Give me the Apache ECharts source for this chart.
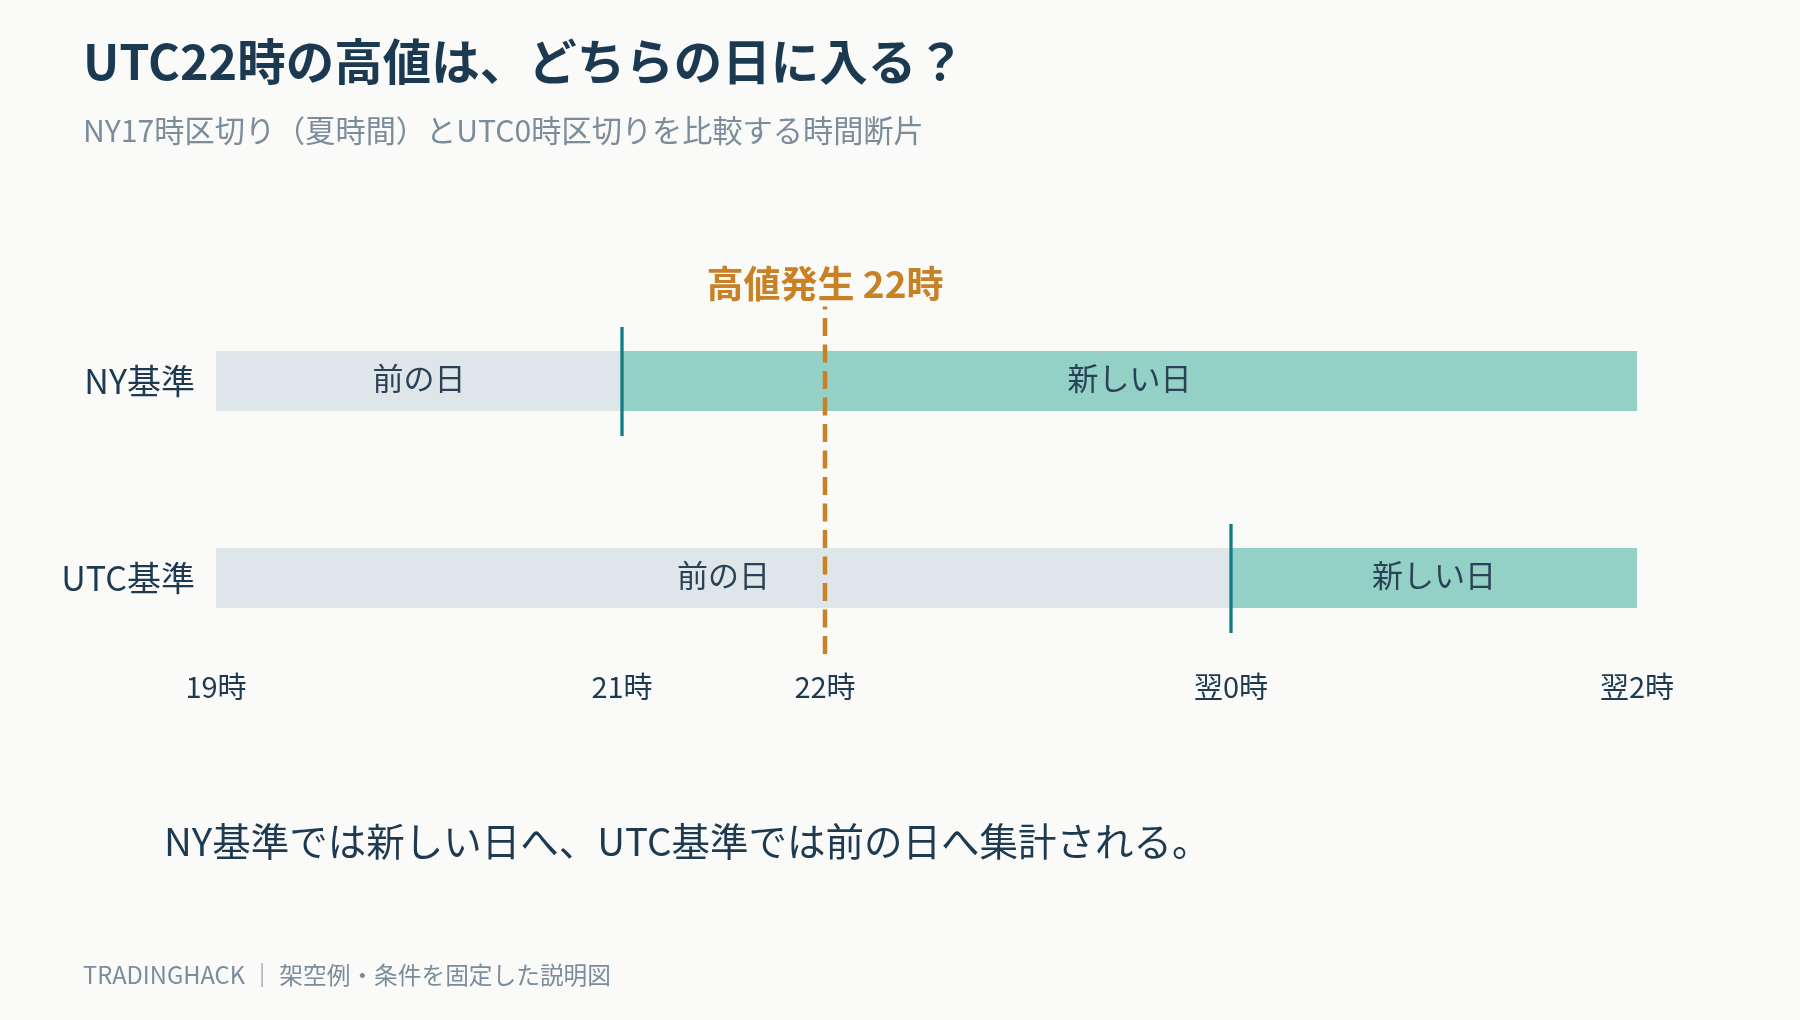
<!DOCTYPE html>
<html>
<head>
<meta charset="utf-8">
<style>
html,body{margin:0;padding:0;background:#fafaf8;}
#chart{width:1800px;height:1020px;}
</style>
<script src="https://cdn.jsdelivr.net/npm/echarts@6/dist/echarts.min.js"></script>
</head>
<body>
<div id="chart"></div>
<script>
// ---- data ----
const rows = ['NY基準', 'UTC基準'];
const rangeStart = [19, 19];
const dayBoundary = [21, 24];
const rangeEnd = [26, 26];
const prevLabel = '前の日';
const newLabel = '新しい日';
const highHour = 22;
const highLabel = '高値発生 22時';
const tickValues = [19, 21, 22, 24, 26];
const tickLabels = ['19時', '21時', '22時', '翌0時', '翌2時'];
const titleText = 'UTC22時の高値は、どちらの日に入る？';
const subtitleText = 'NY17時区切り（夏時間）とUTC0時区切りを比較する時間断片';
const noteText = 'NY基準では新しい日へ、UTC基準では前の日へ集計される。';
const footerText = 'TRADINGHACK ｜ 架空例・条件を固定した説明図';

// ---- build segments from arrays ----
const segments = [];
rows.forEach((r, i) => {
  segments.push({ value: [rangeStart[i], dayBoundary[i], i, 0], name: prevLabel });
  segments.push({ value: [dayBoundary[i], rangeEnd[i], i, 1], name: newLabel });
});
const boundaries = rows.map((r, i) => [dayBoundary[i], i]);

const FONT = '"Noto Sans CJK JP", "Noto Sans", sans-serif';
const NAVY = '#1e3a50';
const GRAY = '#dfe6e9';
const TEAL = '#93d0c6';
const TEAL_LINE = '#107d80';
const ORANGE = '#c98126';
const BAR_H = 60;

const chart = echarts.init(document.getElementById('chart'));
chart.setOption({
  backgroundColor: '#fafaf8',
  animation: false,
  grid: { left: 216, right: 163, top: 282.5, height: 394 },
  xAxis: {
    type: 'value', min: 19, max: 26,
    axisLine: { show: false }, axisTick: { show: false }, splitLine: { show: false },
    axisLabel: {
      customValues: tickValues,
      margin: -4,
      fontFamily: FONT, fontSize: 29, color: NAVY,
      formatter: v => tickLabels[tickValues.indexOf(v)]
    }
  },
  yAxis: {
    type: 'category', data: rows, inverse: true,
    axisLine: { show: false }, axisTick: { show: false }, splitLine: { show: false },
    axisLabel: { margin: 21, fontFamily: FONT, fontSize: 34, color: NAVY, padding: [0, 0, 5, 0] }
  },
  series: [
    {
      type: 'custom', z: 2,
      encode: { x: [0, 1], y: 2 },
      data: segments,
      renderItem: (params, api) => {
        const s = api.value(0), e = api.value(1), r = api.value(2), k = api.value(3);
        const p0 = api.coord([s, r]);
        const p1 = api.coord([e, r]);
        return {
          type: 'group',
          children: [
            { type: 'rect', shape: { x: p0[0], y: p0[1] - BAR_H / 2, width: p1[0] - p0[0], height: BAR_H },
              style: { fill: k ? TEAL : GRAY } },
            { type: 'text', style: { text: segments[params.dataIndex].name, x: (p0[0] + p1[0]) / 2, y: p0[1] - 2.5,
              align: 'center', verticalAlign: 'middle', font: '31px ' + FONT, fill: '#2b4156' } }
          ]
        };
      }
    },
    {
      type: 'custom', z: 3,
      encode: { x: 0, y: 1 },
      data: boundaries,
      renderItem: (params, api) => {
        const p = api.coord([api.value(0), api.value(1)]);
        return { type: 'line', shape: { x1: p[0], y1: p[1] - 54, x2: p[0], y2: p[1] + 55 },
          style: { stroke: TEAL_LINE, lineWidth: 3.3 } };
      }
    },
    {
      type: 'custom', z: 4,
      encode: { x: 0 },
      data: [[highHour]],
      renderItem: (params, api) => {
        const top = api.coord([api.value(0), 0]);
        const bot = api.coord([api.value(0), rows.length - 1]);
        return {
          type: 'group',
          children: [
            { type: 'line', shape: { x1: bot[0], y1: bot[1] + 76, x2: top[0], y2: top[1] - 74.5 },
              style: { stroke: ORANGE, lineWidth: 4.5, lineDash: [18, 8.5] } },
            { type: 'text', style: { text: highLabel, x: top[0], y: top[1] - 97, align: 'center', verticalAlign: 'middle',
              font: 'bold 37px ' + FONT, fill: ORANGE } }
          ]
        };
      }
    }
  ],
  graphic: [
    { type: 'text', style: { text: titleText, x: 83, y: 62, verticalAlign: 'middle',
      font: 'bold 48.5px ' + FONT, fill: '#1b3a52' } },
    { type: 'text', style: { text: subtitleText, x: 83, y: 131, verticalAlign: 'middle',
      font: '30.2px ' + FONT, fill: '#7b8c9b' } },
    { type: 'text', style: { text: noteText, x: 164, y: 841, verticalAlign: 'middle',
      font: '38.5px ' + FONT, fill: NAVY } },
    { type: 'text', style: { text: footerText, x: 83, y: 975, verticalAlign: 'middle',
      font: '23.7px ' + FONT, fill: '#7b8c9b' } }
  ]
});
</script>
</body>
</html>
